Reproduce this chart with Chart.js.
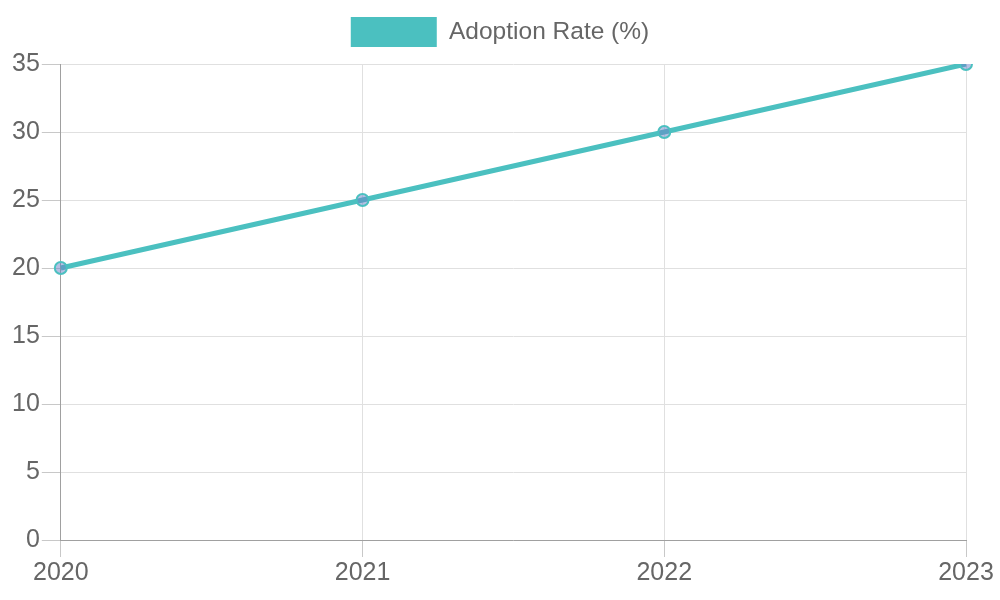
<!DOCTYPE html>
<html>
<head>
<meta charset="utf-8">
<script src="https://cdn.jsdelivr.net/npm/chart.js@4"></script>
<style>
  html, body { margin: 0; padding: 0; background: #fff; }
  #wrap { width: 1000px; height: 600px; }
</style>
</head>
<body>
<div id="wrap"><canvas id="chart"></canvas></div>
<script>
const years = ['2020', '2021', '2022', '2023']
const adoptionRate = [20, 25, 30, 35]
const seriesLabel = 'Adoption Rate (%)'

Chart.defaults.font.family = '"Liberation Sans", Arial, sans-serif'
Chart.defaults.color = '#666'

// a bit more room under the legend
const legendGap = {
  id: 'legendGap',
  afterInit(chart) {
    const fit = chart.legend.fit
    chart.legend.fit = function () {
      fit.call(this)
      this.height += 7
    }
  }
}

new Chart(document.getElementById('chart'), {
  type: 'line',
  data: {
    labels: years,
    datasets: [{
      label: seriesLabel,
      data: adoptionRate,
      borderColor: '#4bc0c0',
      backgroundColor: '#4bc0c0',
      borderWidth: 5,
      pointRadius: 6,
      pointBorderWidth: 2,
      pointBorderColor: '#4bc0c0',
      pointBackgroundColor: 'rgba(110,130,200,0.5)',
      tension: 0
    }]
  },
  plugins: [legendGap],
  options: {
    responsive: true,
    maintainAspectRatio: false,
    animation: false,
    layout: { padding: { top: 7, left: 0, right: 0, bottom: 11 } },
    plugins: {
      legend: {
        labels: {
          boxWidth: 86,
          boxHeight: 30,
          font: { size: 24.5 },
          generateLabels: (chart) =>
            Chart.defaults.plugins.legend.labels.generateLabels(chart)
              .map(item => ({ ...item, lineWidth: 0, strokeStyle: 'transparent' }))
        }
      }
    },
    scales: {
      x: {
        grid: { color: '#e0e0e0', tickColor: '#c8c8c8', tickLength: 17 },
        border: { color: '#a0a0a0' },
        ticks: { font: { size: 25 }, padding: 1 },
        afterFit: (scale) => { scale.paddingRight = 34 }
      },
      y: {
        min: 0,
        max: 35,
        grid: { color: '#e0e0e0', tickColor: '#c8c8c8', tickLength: 19 },
        border: { color: '#a0a0a0' },
        ticks: { stepSize: 5, font: { size: 25 }, padding: 2 },
        afterFit: (scale) => { scale.width += 10 }
      }
    }
  }
})
</script>
</body>
</html>
